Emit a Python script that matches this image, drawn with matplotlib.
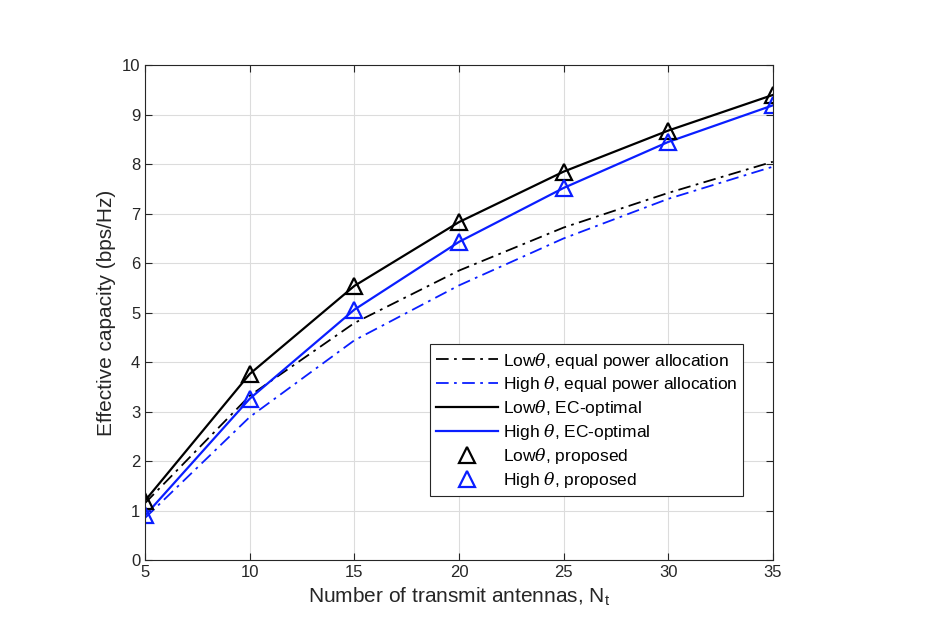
import matplotlib
matplotlib.use('Agg')
import matplotlib.pyplot as plt

plt.rcParams['font.family'] = ['Liberation Sans', 'DejaVu Sans']
plt.rcParams['mathtext.fontset'] = 'dejavuserif'

nt = [5, 10, 15, 20, 25, 30, 35]
low_equal = [1.15, 3.32, 4.79, 5.85, 6.72, 7.42, 8.05]
high_equal = [0.85, 2.89, 4.44, 5.55, 6.50, 7.30, 7.95]
low_ec = [1.20, 3.76, 5.54, 6.83, 7.85, 8.68, 9.40]
high_ec = [0.90, 3.26, 5.06, 6.43, 7.52, 8.45, 9.19]
low_prop = [1.20, 3.76, 5.54, 6.83, 7.85, 8.68, 9.40]
high_prop = [0.90, 3.26, 5.06, 6.43, 7.52, 8.45, 9.19]

blue = '#0a1eff'
dashdot = (0, (7, 3, 1.5, 3))
fig = plt.figure(figsize=(9.3, 6.4), dpi=100)
ax = fig.add_axes([0.156, 0.125, 0.675, 0.773])

ax.plot(nt, low_equal, color='black', ls=dashdot, lw=1.3, label=r'Low$\theta$, equal power allocation')
ax.plot(nt, high_equal, color=blue, ls=dashdot, lw=1.3, label=r'High $\theta$, equal power allocation')
ax.plot(nt, low_ec, color='black', ls='-', lw=1.6, label=r'Low$\theta$, EC-optimal')
ax.plot(nt, high_ec, color=blue, ls='-', lw=1.6, label=r'High $\theta$, EC-optimal')
ax.plot(nt, low_prop, ls='none', marker='^', ms=11, mfc='none', mec='black', mew=1.6,
        label=r'Low$\theta$, proposed')
ax.plot(nt, high_prop, ls='none', marker='^', ms=11, mfc='none', mec=blue, mew=1.6,
        label=r'High $\theta$, proposed')

ax.set_xlim(5, 35)
ax.set_ylim(0, 10)
ax.set_xticks(nt)
ax.set_yticks(range(0, 11))
ax.grid(True, color='#dcdcdc', lw=0.8)
ax.set_axisbelow(True)
ax.tick_params(direction='in', top=True, right=True, labelsize=12, colors='#262626', length=5)
for s in ax.spines.values():
    s.set_color('#262626')
    s.set_linewidth(0.8)

ax.set_xlabel(r'Number of transmit antennas, N$_\mathregular{t}$', fontsize=15, color='#262626')
ax.set_ylabel('Effective capacity (bps/Hz)', fontsize=15, color='#262626')

leg = ax.legend(loc='lower right', bbox_to_anchor=(0.953, 0.13), fontsize=12.5, fancybox=False,
                framealpha=1, edgecolor='#262626', handlelength=3.6, handletextpad=0.25,
                borderpad=0.35, labelspacing=0.22, borderaxespad=0)
leg.get_frame().set_linewidth(0.8)

fig.savefig('out.png', dpi=100)
